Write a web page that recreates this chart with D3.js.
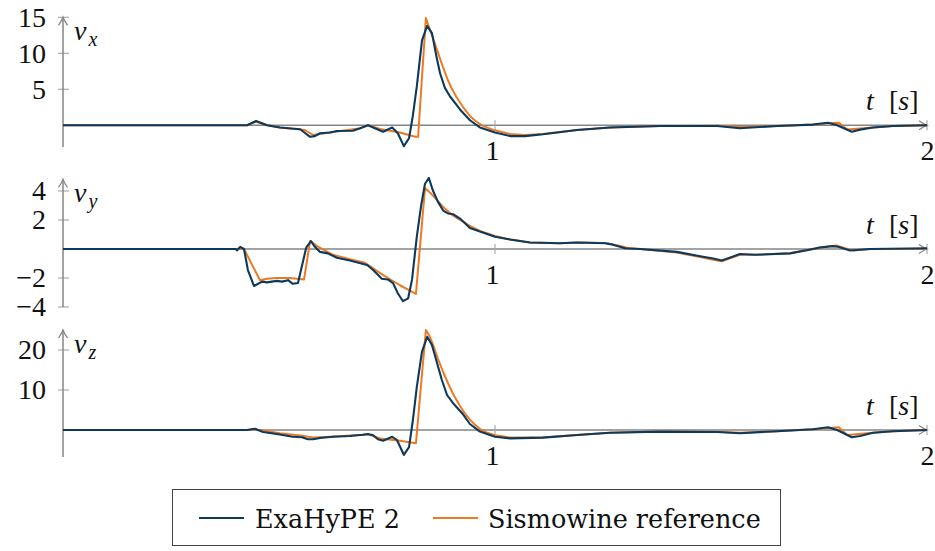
<!DOCTYPE html>
<html><head><meta charset="utf-8">
<script src="https://cdn.jsdelivr.net/npm/d3@7"></script>
<style>body{margin:0;background:#fff} svg{display:block}</style>
</head><body>
<svg id="chart" width="935" height="551"></svg>
<script>
// ---------------- data ----------------
const seriesNames = ["ExaHyPE 2", "Sismowine reference"];
const timeTicks = [1, 2];
const vxTicks = [5, 10, 15];
const vyTicks = [-4, -2, 2, 4];
const vzTicks = [10, 20];
const vxDomain = [-3, 15];
const vyDomain = [-4, 4.8];
const vzDomain = [-6.75, 25];

// [t (s), value]
const vxExahype = [[0,0],[0.426,0],[0.447,0.6],[0.472,0],[0.502,-0.3],[0.549,-0.55],[0.572,-1.6],[0.583,-1.5],[0.595,-1.1],[0.618,-1.0],[0.634,-0.8],[0.671,-0.75],[0.688,-0.4],[0.706,0],[0.722,-0.4],[0.741,-0.9],[0.762,-0.3],[0.775,-1.1],[0.789,-2.9],[0.801,-1.8],[0.810,1.4],[0.819,5.4],[0.831,11.8],[0.843,13.8],[0.854,12.8],[0.866,9.1],[0.873,7.2],[0.884,5.2],[0.896,4.0],[0.919,2.2],[0.942,0.7],[0.965,-0.3],[1.0,-1.0],[1.035,-1.5],[1.07,-1.5],[1.111,-1.25],[1.19,-0.65],[1.266,-0.3],[1.382,-0.1],[1.514,-0.1],[1.567,-0.4],[1.653,-0.1],[1.736,0.1],[1.771,0.35],[1.792,0],[1.826,-0.9],[1.845,-0.6],[1.875,-0.3],[1.921,-0.1],[2.0,0]];
const vxSismowine = [[0,0],[0.426,0],[0.447,0.5],[0.472,0.05],[0.502,-0.3],[0.549,-0.6],[0.56,-0.65],[0.579,-1.35],[0.618,-1.0],[0.688,-0.4],[0.706,0],[0.734,-0.5],[0.78,-1.0],[0.815,-1.6],[0.822,-1.6],[0.84,14.9],[0.848,13.5],[0.856,12.2],[0.864,10.8],[0.872,9.4],[0.88,8.0],[0.89,6.4],[0.9,5.1],[0.912,3.8],[0.93,2.2],[0.942,1.3],[0.955,0.6],[0.97,0.0],[0.985,-0.4],[1.0,-0.7],[1.035,-1.2],[1.07,-1.35],[1.111,-1.2],[1.19,-0.65],[1.266,-0.3],[1.382,-0.1],[1.514,-0.05],[1.567,-0.25],[1.653,-0.1],[1.736,0.1],[1.771,0.3],[1.796,0.35],[1.815,-0.6],[1.875,-0.3],[1.921,-0.1],[2.0,0]];

const vyExahype = [[0,0],[0.4,0],[0.403,-0.1],[0.41,0.15],[0.419,0],[0.428,-1.45],[0.442,-2.55],[0.461,-2.25],[0.472,-2.3],[0.495,-2.2],[0.507,-2.25],[0.521,-2.15],[0.532,-2.4],[0.544,-2.35],[0.563,0.1],[0.574,0.55],[0.583,0.15],[0.595,-0.2],[0.613,-0.3],[0.634,-0.6],[0.664,-0.8],[0.704,-1.1],[0.718,-1.45],[0.738,-2.05],[0.752,-2.1],[0.764,-2.35],[0.775,-3.05],[0.787,-3.6],[0.799,-3.4],[0.808,-2.1],[0.819,0.85],[0.829,3.0],[0.838,4.5],[0.847,4.9],[0.856,4.05],[0.868,3.25],[0.88,2.65],[0.891,2.45],[0.903,2.4],[0.919,2.1],[0.942,1.45],[0.965,1.2],[1.0,0.85],[1.035,0.65],[1.081,0.45],[1.15,0.4],[1.19,0.45],[1.255,0.4],[1.273,0.3],[1.301,0.05],[1.336,0],[1.421,-0.2],[1.475,-0.5],[1.505,-0.65],[1.525,-0.8],[1.567,-0.35],[1.602,-0.4],[1.683,-0.3],[1.736,0],[1.752,0.1],[1.782,0.2],[1.794,0.15],[1.822,-0.1],[1.868,0],[2.0,0.05]];
const vySismowine = [[0,0],[0.419,0],[0.456,-2.15],[0.472,-2.05],[0.495,-2.0],[0.525,-2.0],[0.558,-2.1],[0.572,0.55],[0.588,0.2],[0.625,-0.4],[0.664,-0.7],[0.699,-0.95],[0.741,-1.8],[0.78,-2.5],[0.817,-3.1],[0.838,4.2],[0.856,3.7],[0.88,2.9],[0.903,2.3],[0.942,1.6],[0.965,1.25],[1.0,0.9],[1.035,0.65],[1.081,0.45],[1.15,0.4],[1.19,0.45],[1.255,0.42],[1.285,0.25],[1.31,0.05],[1.336,0],[1.421,-0.25],[1.475,-0.55],[1.505,-0.75],[1.525,-0.85],[1.567,-0.4],[1.602,-0.4],[1.683,-0.3],[1.736,0],[1.752,0.1],[1.79,0.25],[1.81,0.05],[1.83,-0.1],[1.868,0],[2.0,0]];

const vzExahype = [[0,0],[0.426,0],[0.444,0.3],[0.463,-0.5],[0.495,-1.0],[0.532,-1.7],[0.553,-1.8],[0.567,-2.3],[0.579,-2.3],[0.595,-2.0],[0.625,-1.7],[0.664,-1.5],[0.694,-1.2],[0.706,-1.0],[0.718,-1.3],[0.729,-2.3],[0.741,-2.7],[0.762,-1.7],[0.773,-2.5],[0.789,-6.2],[0.801,-4.3],[0.81,2.5],[0.819,10.8],[0.831,19.6],[0.843,23.3],[0.854,21.25],[0.866,16.7],[0.877,12.5],[0.889,8.75],[0.903,6.7],[0.924,4.2],[0.942,1.5],[0.965,-0.4],[1.0,-1.7],[1.035,-2.1],[1.111,-1.9],[1.19,-1.25],[1.266,-0.7],[1.382,-0.4],[1.514,-0.5],[1.567,-0.8],[1.653,-0.3],[1.736,0.2],[1.771,0.7],[1.792,0],[1.826,-1.8],[1.845,-1.5],[1.875,-0.7],[1.921,-0.3],[2.0,0]];
const vzSismowine = [[0,0],[0.426,0],[0.444,0.2],[0.502,-0.8],[0.549,-1.4],[0.579,-1.9],[0.618,-1.7],[0.706,-1.1],[0.734,-2.1],[0.78,-2.7],[0.817,-3.3],[0.84,25],[0.848,23.6],[0.856,21.5],[0.868,17.8],[0.88,14.5],[0.892,11.5],[0.903,9.0],[0.919,6.0],[0.93,4.2],[0.942,2.6],[0.955,1.2],[0.965,0.3],[0.98,-0.6],[1.0,-1.3],[1.035,-1.9],[1.111,-1.9],[1.19,-1.25],[1.266,-0.7],[1.382,-0.4],[1.514,-0.45],[1.567,-0.7],[1.653,-0.3],[1.736,0.2],[1.796,0.7],[1.815,-1.25],[1.875,-0.7],[1.921,-0.3],[2.0,0]];

// ---------------- layout ----------------
const blue = "#0b3a5e", orange = "#ec7a25", grey = "#858585";
const serif = "'Liberation Serif', 'Times New Roman', serif";
const svg = d3.select("#chart");
const x = d3.scaleLinear().domain([0, 2]).range([63, 927]);

const panels = [
  {sym: "x", domain: vxDomain, range: [146.9, 17.3], ticks: vxTicks, exa: vxExahype, sis: vxSismowine},
  {sym: "y", domain: vyDomain, range: [307, 179.4], ticks: vyTicks, exa: vyExahype, sis: vySismowine},
  {sym: "z", domain: vzDomain, range: [457, 330], ticks: vzTicks, exa: vzExahype, sis: vzSismowine}
];

const fmt = v => v < 0 ? "\u2212" + Math.abs(v) : String(v);

function arrow(g, tx, ty, dir) {
  const p = dir === "right"
    ? `M${tx-8},${ty-4.5} Q${tx-3},${ty-1} ${tx},${ty} Q${tx-3},${ty+1} ${tx-8},${ty+4.5}`
    : `M${tx-4.5},${ty+8} Q${tx-1},${ty+3} ${tx},${ty} Q${tx+1},${ty+3} ${tx+4.5},${ty+8}`;
  g.append("path").attr("d", p).attr("fill", "none").attr("stroke", grey).attr("stroke-width", 1.3);
}

panels.forEach(p => {
  const y = d3.scaleLinear().domain(p.domain).range(p.range);
  const g = svg.append("g");
  const y0 = y(0);

  // y axis
  const yAxis = d3.axisLeft(y).tickValues(p.ticks).tickFormat(fmt).tickSize(0).tickPadding(17);
  const ya = g.append("g").attr("transform", `translate(${x(0)},0)`).call(yAxis);
  ya.select(".domain").remove();
  ya.selectAll("text").attr("font-family", serif).attr("font-size", 28).attr("fill", "#111");
  g.selectAll(".ytick").data(p.ticks).enter().append("line")
    .attr("x1", x(0) - 5).attr("x2", x(0) + 6).attr("y1", d => y(d)).attr("y2", d => y(d))
    .attr("stroke", "#aaa").attr("stroke-width", 1.2);
  g.append("line").attr("x1", x(0)).attr("x2", x(0)).attr("y1", y(p.domain[0])).attr("y2", y(p.domain[1]))
    .attr("stroke", grey).attr("stroke-width", 1.5);
  arrow(g, x(0), y(p.domain[1]), "up");

  // x axis
  g.append("line").attr("x1", x(0)).attr("x2", x(2)).attr("y1", y0).attr("y2", y0)
    .attr("stroke", grey).attr("stroke-width", 1.5);
  g.selectAll(".xtick").data(timeTicks).enter().append("line")
    .attr("x1", d => x(d)).attr("x2", d => x(d)).attr("y1", y0 - 5).attr("y2", y0 + 5)
    .attr("stroke", "#aaa").attr("stroke-width", 1.2);
  arrow(g, x(2), y0, "right");
  const xAxis = d3.axisBottom(x).tickValues(timeTicks).tickFormat(d3.format("d")).tickSize(0);
  const xa = g.append("g").attr("transform", `translate(0,${y0})`).call(xAxis);
  xa.select(".domain").remove();
  xa.selectAll("text").attr("font-family", serif).attr("font-size", 28).attr("fill", "#111")
    .attr("dy", null).attr("y", 35);
  xa.selectAll(".tick").filter(d => d === 1).select("text").attr("dx", -3);

  // axis labels
  const tl = g.append("text").attr("y", y0 - 15).attr("font-family", serif).attr("font-size", 28).attr("fill", "#111");
  tl.append("tspan").attr("x", 866).attr("font-style", "italic").text("t");
  tl.append("tspan").attr("x", 889).text("[");
  tl.append("tspan").attr("font-style", "italic").text("s");
  tl.append("tspan").text("]");

  const vl = g.append("text").attr("x", 74).attr("y", y(p.domain[1]) + 23)
    .attr("font-family", serif).attr("font-size", 28).attr("font-style", "italic").attr("fill", "#111");
  vl.append("tspan").text("v");
  vl.append("tspan").attr("font-size", 20).attr("dx", 2).attr("dy", 6).text(p.sym);

  // series
  const line = d3.line().x(d => x(d[0])).y(d => y(d[1]));
  g.append("path").datum(p.sis).attr("d", line).attr("fill", "none").attr("stroke", orange)
    .attr("stroke-width", 2).attr("stroke-linejoin", "round");
  g.append("path").datum(p.exa).attr("d", line).attr("fill", "none").attr("stroke", blue)
    .attr("stroke-width", 2.1).attr("stroke-linejoin", "round");
});

// ---------------- legend ----------------
const lg = svg.append("g");
lg.append("rect").attr("x", 172.5).attr("y", 489.5).attr("width", 608).attr("height", 56)
  .attr("fill", "#fff").attr("stroke", "#444").attr("stroke-width", 1);
const legendItems = [
  {name: seriesNames[0], color: blue, lx: 199, tx: 255},
  {name: seriesNames[1], color: orange, lx: 433, tx: 488}
];
legendItems.forEach(it => {
  lg.append("line").attr("x1", it.lx).attr("x2", it.lx + 45).attr("y1", 518).attr("y2", 518)
    .attr("stroke", it.color).attr("stroke-width", 2);
  lg.append("text").attr("x", it.tx).attr("y", 528).attr("font-family", "'DejaVu Serif', serif")
    .attr("font-size", 25.5).attr("fill", "#111").text(it.name);
});
</script>
</body></html>
